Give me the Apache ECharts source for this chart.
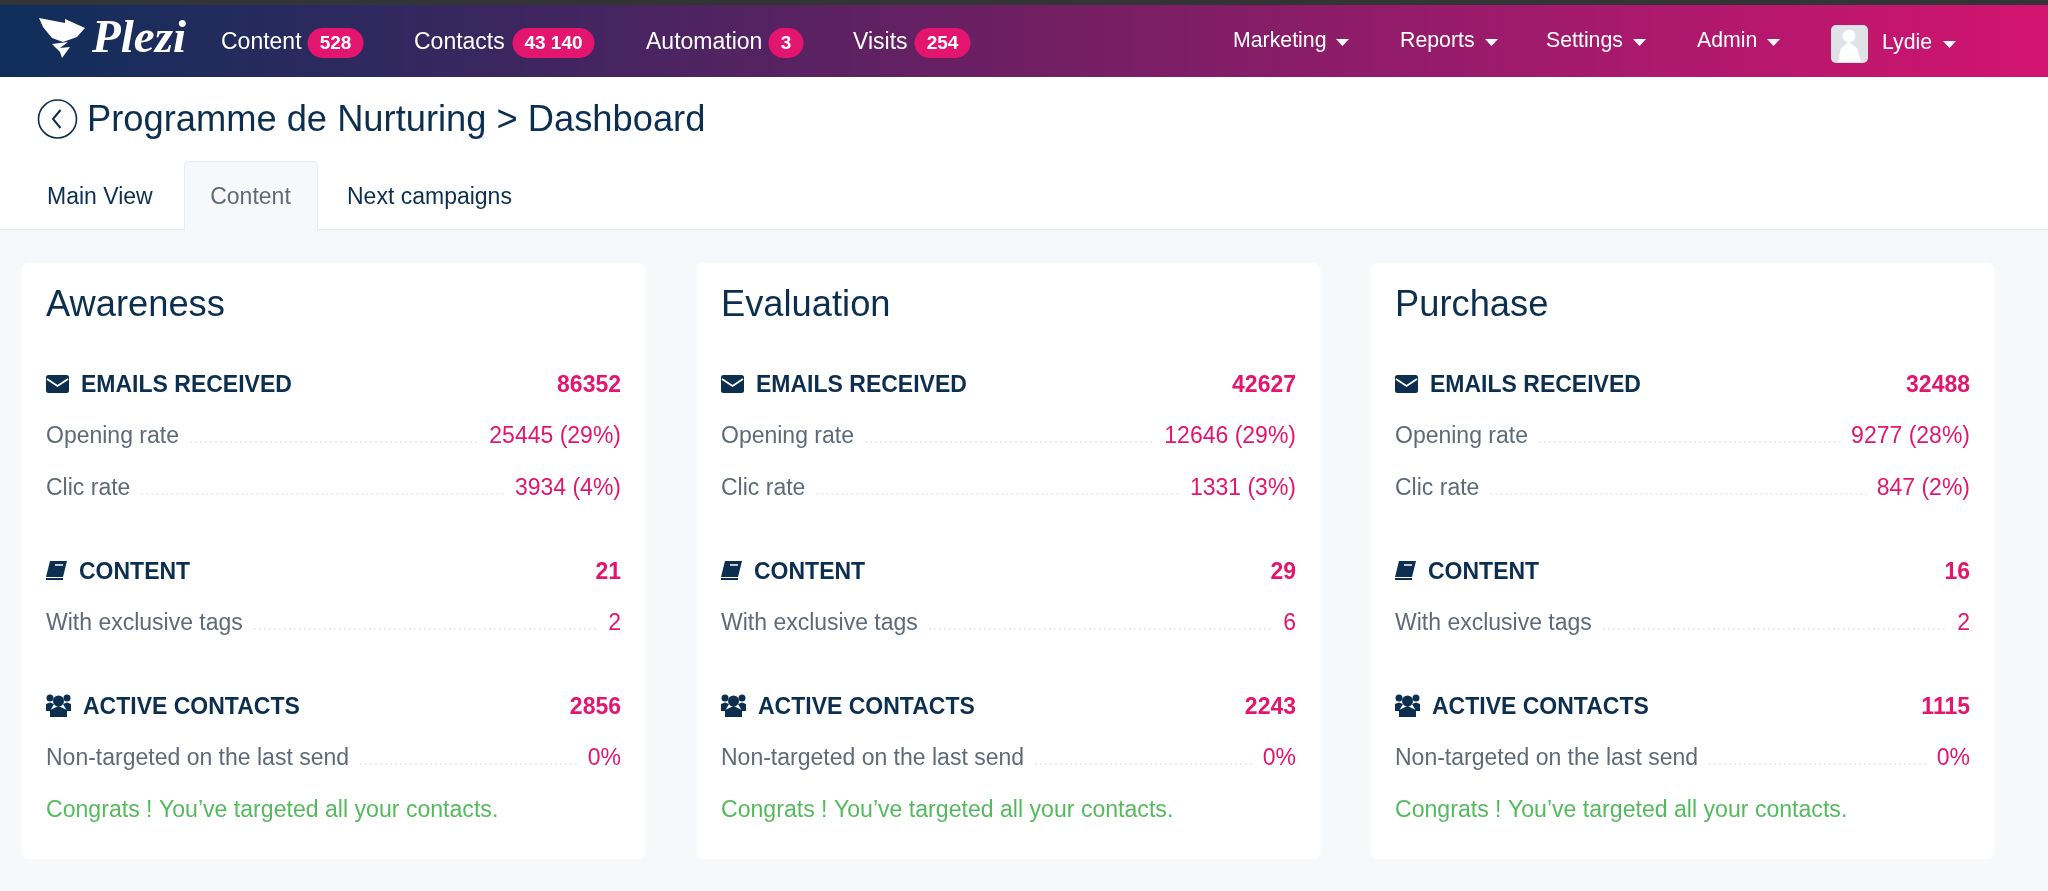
<!DOCTYPE html>
<html>
<head>
<meta charset="utf-8">
<title>Programme de Nurturing Dashboard</title>
<script src="https://cdn.jsdelivr.net/npm/echarts@6/dist/echarts.min.js"></script>
<style>
    html, body { margin: 0; padding: 0; background: #f7f8fa; }
    #dashboard { width: 2048px; height: 891px; }
</style>
</head>
<body>
<div id="dashboard"></div>
<script>
// Values
const navItems = ['Content', 'Contacts', 'Automation', 'Visits'];
const navCounts = ['528', '43 140', '3', '254'];
const menuItems = ['Marketing', 'Reports', 'Settings', 'Admin'];
const userName = 'Lydie';
const pageTitle = 'Programme de Nurturing > Dashboard';
const tabs = ['Main View', 'Content', 'Next campaigns'];
const stages = ['Awareness', 'Evaluation', 'Purchase'];
const emailsReceived = [86352, 42627, 32488];
const openingCounts = [25445, 12646, 9277];
const openingRates = [29, 29, 28];
const clicCounts = [3934, 1331, 847];
const clicRates = [4, 3, 2];
const contentCounts = [21, 29, 16];
const exclusiveTags = [2, 6, 2];
const activeContacts = [2856, 2243, 1115];
const nonTargeted = [0, 0, 0];
const congratsText = 'Congrats ! You\u2019ve targeted all your contacts.';

const NAVY = '#0c2f50';
const GREY = '#5f6a78';
const PINK = '#e3156f';
const GREEN = '#55b95e';
const FONT = '"Liberation Sans", Arial, sans-serif';

const measure = document.createElement('canvas').getContext('2d');
function textWidth(str, size, weight) {
    measure.font = (weight || 'normal') + ' ' + size + 'px ' + FONT;
    return measure.measureText(str).width;
}

const elements = [];

function addText(str, x, y, size, color, opts) {
    opts = opts || {};
    elements.push({
        type: 'text',
        x: x,
        y: y,
        z: 10,
        style: {
            text: str,
            fill: color,
            font: (opts.font) || ((opts.weight || 'normal') + ' ' + size + 'px ' + FONT),
            align: opts.align || 'left',
            verticalAlign: 'middle'
        }
    });
}

function addRect(x, y, w, h, fill, r, stroke, z) {
    elements.push({
        type: 'rect',
        z: z || 2,
        shape: { x: x, y: y, width: w, height: h, r: r || 0 },
        style: { fill: fill, stroke: stroke || null, lineWidth: stroke ? 1 : 0 }
    });
}

function addShape(points, fill) {
    elements.push({ type: 'polygon', z: 10, shape: { points: points }, style: { fill: fill } });
}

function addStroke(points, stroke, lineWidth) {
    elements.push({
        type: 'polyline',
        z: 11,
        shape: { points: points },
        style: { fill: null, stroke: stroke, lineWidth: lineWidth }
    });
}

function addCircle(cx, cy, r, fill) {
    elements.push({ type: 'circle', z: 10, shape: { cx: cx, cy: cy, r: r }, style: { fill: fill } });
}

function addCaret(x, y) {
    addShape([[x, y - 3], [x + 13, y - 3], [x + 6.5, y + 4]], '#fff');
}

// Header band
addRect(0, 0, 2048, 6, '#333436');
elements.push({
    type: 'rect',
    z: 3,
    shape: { x: 0, y: 5, width: 2048, height: 72 },
    style: {
        fill: new echarts.graphic.LinearGradient(0, 0, 1, 0, [
            { offset: 0, color: '#0e2f5a' },
            { offset: 0.25, color: '#3c2660' },
            { offset: 0.5, color: '#6f1f63' },
            { offset: 0.75, color: '#a01a6c' },
            { offset: 1, color: '#d2146f' }
        ])
    }
});

// Logo
addShape([[39, 18], [65, 23], [65, 19], [85, 28], [77, 37], [63, 42], [52, 38], [43, 27]], '#fff');
addShape([[52, 44], [68, 42], [60, 48], [70, 47], [62, 58], [60, 52], [56, 48]], '#fff');
addText('Plezi', 92, 40, 47, '#fff', { font: 'italic bold 47px "Liberation Serif", serif' });

// Left nav with badges
const navX = [221, 414, 646, 853];
const badgeX = [307.5, 512.5, 768.5, 914.5];
const badgeW = [56, 82, 35, 56];
navItems.forEach(function (name, i) {
    addText(name, navX[i], 43, 23, '#fff');
    addRect(badgeX[i], 28, badgeW[i], 30, PINK, 15, null, 5);
    addText(navCounts[i], badgeX[i] + badgeW[i] / 2, 44, 19, '#fff', { weight: 'bold', align: 'center' });
});

// Right nav
const menuX = [1233, 1400, 1546, 1697];
const caretX = [1336, 1485, 1633, 1767];
menuItems.forEach(function (name, i) {
    addText(name, menuX[i], 41.5, 21.3, '#fff');
    addCaret(caretX[i], 42);
});
addRect(1831, 25, 37, 38, '#dfe3e7', 5, null, 5);
addCircle(1849, 36, 6.5, '#fff');
addShape([[1838, 62], [1841, 48], [1849, 42], [1857, 48], [1861, 62]], '#fff');
addText(userName, 1882, 43.5, 21.3, '#fff');
addCaret(1943, 44);

// Page header
elements.push({
    type: 'circle',
    z: 10,
    shape: { cx: 57.5, cy: 119, r: 19 },
    style: { fill: null, stroke: NAVY, lineWidth: 1.6 }
});
addStroke([[60.5, 110], [53, 119], [60.5, 128]], NAVY, 2);
addText(pageTitle, 87, 120.5, 36.3, NAVY);

// Tabs
addRect(0, 77, 2048, 152, '#fff');
elements.push({
    type: 'line',
    z: 2,
    shape: { x1: 0, y1: 229.5, x2: 2048, y2: 229.5 },
    style: { stroke: '#e7e9ed', lineWidth: 1 }
});
addRect(184.5, 161.5, 133, 72, '#f7f8fa', 4, '#e9ebef', 3);
addRect(185, 226, 132, 8, '#f7f8fa', 0, null, 4);
addText(tabs[0], 47, 197.5, 23, NAVY);
addText(tabs[1], 250.5, 197.5, 23, GREY, { align: 'center' });
addText(tabs[2], 347, 197.5, 23, NAVY);

// Cards
const cardX = [21.5, 696.5, 1370.5];
const cardW = 624;
const textInset = 24.5;
const valueInset = 599.5;

function addRow(label, value, left, right, y) {
    addText(label, left, y + 2, 23, GREY);
    addText(value, right, y + 2, 23, PINK, { align: 'right' });
    const from = left + textWidth(label, 23) + 11;
    const to = right - textWidth(value, 23) - 10;
    elements.push({
        type: 'line',
        z: 5,
        shape: { x1: from, y1: y + 7, x2: to, y2: y + 7 },
        style: { stroke: '#e3e6ea', lineWidth: 1.5, lineDash: [2, 3] }
    });
}

function addHeading(label, value, labelX, right, y) {
    addText(label, labelX, y + 2, 23, NAVY, { weight: 'bold' });
    addText(value, right, y + 2, 23, PINK, { weight: 'bold', align: 'right' });
}

stages.forEach(function (stage, i) {
    const card = cardX[i];
    const left = card + textInset;
    const right = card + valueInset;

    addRect(card, 263, cardW, 596, '#fff', 7);
    addText(stage, left, 305.5, 36.3, NAVY);

    // Envelope icon
    addRect(left, 375, 23, 18, NAVY, 2.5, null, 10);
    addStroke([[left + 1, 379], [left + 11.5, 386], [left + 22, 379]], '#fff', 1.8);
    addHeading('EMAILS RECEIVED', String(emailsReceived[i]), left + 35, right, 384);
    addRow('Opening rate', openingCounts[i] + ' (' + openingRates[i] + '%)', left, right, 435);
    addRow('Clic rate', clicCounts[i] + ' (' + clicRates[i] + '%)', left, right, 487);

    // Book icon
    addShape([[left + 4, 561], [left + 21, 561], [left + 17, 577], [left, 577]], NAVY);
    addStroke([[left, 579], [left + 17, 579]], NAVY, 2);
    addStroke([[left + 9, 565], [left + 17, 565]], '#fff', 1.5);
    addHeading('CONTENT', String(contentCounts[i]), left + 33, right, 571);
    addRow('With exclusive tags', String(exclusiveTags[i]), left, right, 622);

    // Users icon
    addCircle(left + 12.5, 701, 5.5, NAVY);
    addCircle(left + 4, 698, 3.5, NAVY);
    addCircle(left + 21, 698, 3.5, NAVY);
    addShape([[left, 711], [left, 704], [left + 4, 702.5], [left + 8, 704], [left + 4, 711]], NAVY);
    addShape([[left + 25, 711], [left + 25, 704], [left + 21, 702.5], [left + 17, 704], [left + 21, 711]], NAVY);
    addShape([[left + 4, 717], [left + 4, 710], [left + 12.5, 706], [left + 21, 710], [left + 21, 717]], NAVY);
    addHeading('ACTIVE CONTACTS', String(activeContacts[i]), left + 37, right, 706);
    addRow('Non-targeted on the last send', nonTargeted[i] + '%', left, right, 757);

    addText(congratsText, left, 811, 23.1, GREEN);
});

const dashboard = echarts.init(document.getElementById('dashboard'));
dashboard.setOption({
    animation: false,
    backgroundColor: '#f7f8fa',
    graphic: { elements: elements }
});
</script>
</body>
</html>
